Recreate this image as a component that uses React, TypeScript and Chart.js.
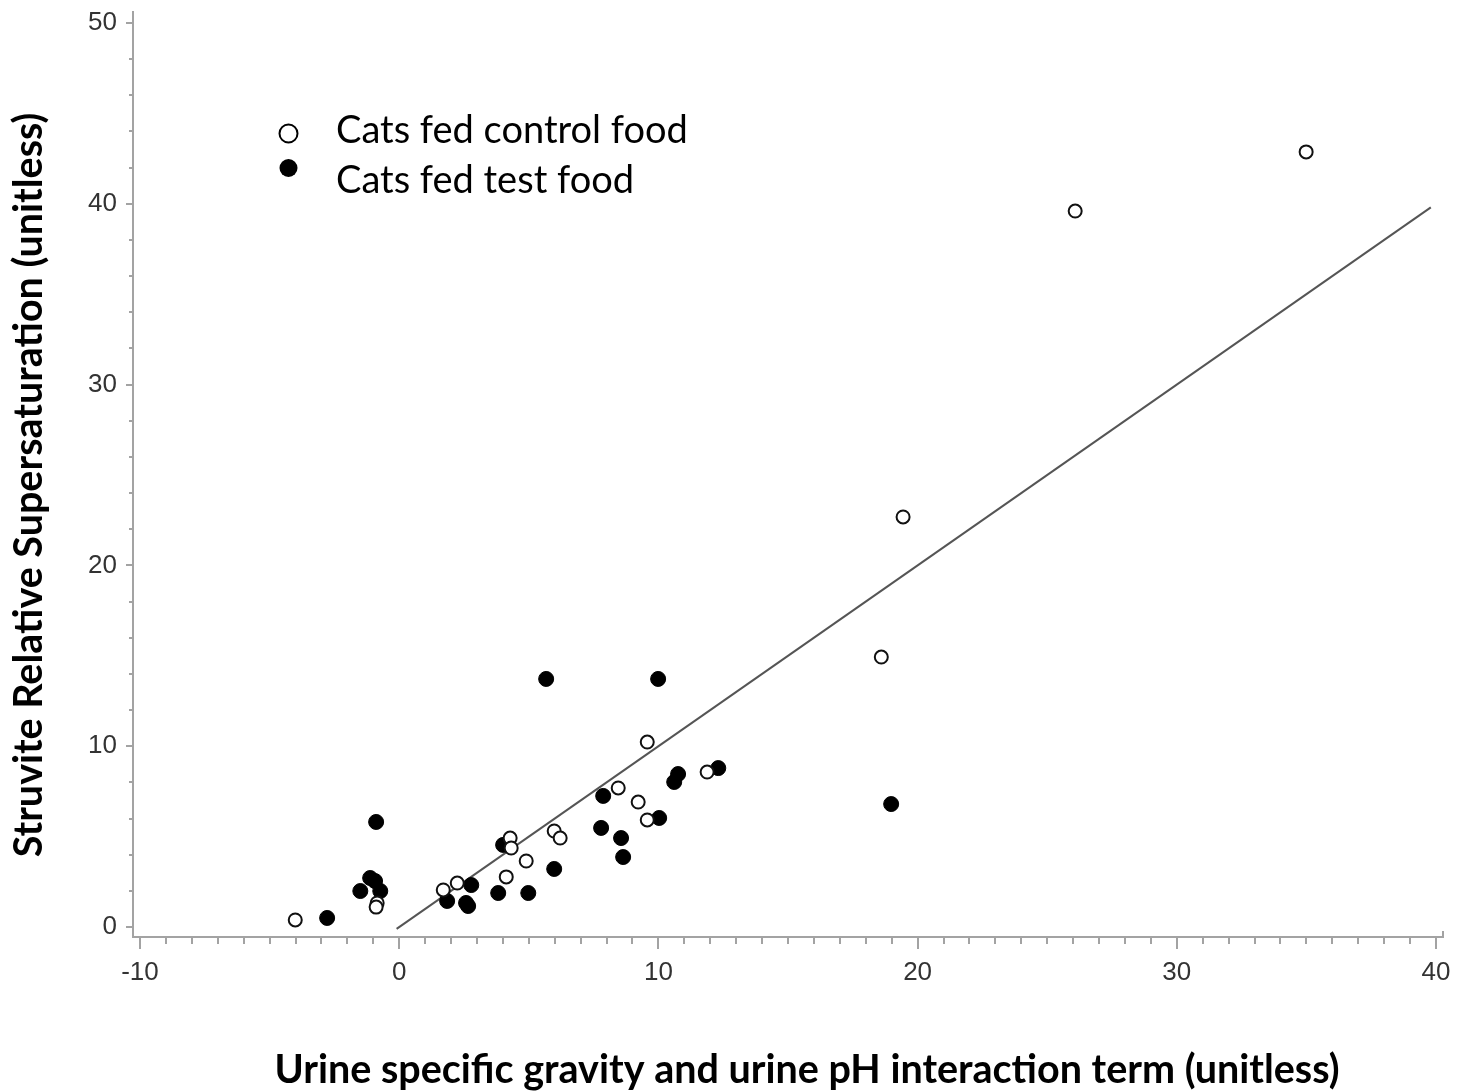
import React, { useEffect, useRef } from "react";
import { Chart, registerables } from "chart.js";
Chart.register(...registerables);

// ---- data ----
const controlX = [-4.01, -0.85, -0.89, 1.7, 2.24, 4.13, 4.28, 4.32, 4.9, 5.98, 6.21, 8.45, 9.22, 9.57, 9.57, 11.88, 18.6, 19.44, 26.08, 34.99];
const controlY = [0.39, 1.33, 1.1, 2.05, 2.43, 2.77, 4.92, 4.37, 3.65, 5.31, 4.92, 7.69, 6.91, 5.92, 10.23, 8.57, 14.93, 22.68, 39.6, 42.87];
const testX = [-2.78, -0.89, -1.12, -0.93, -1.5, -0.73, 1.85, 2.58, 2.66, 2.78, 3.82, 4.98, 4.01, 5.98, 5.67, 9.99, 7.87, 7.79, 8.56, 8.64, 10.03, 10.61, 10.76, 12.31, 18.98];
const testY = [0.5, 5.81, 2.71, 2.54, 1.99, 1.99, 1.44, 1.33, 1.16, 2.32, 1.88, 1.88, 4.54, 3.21, 13.72, 13.72, 7.25, 5.48, 4.92, 3.87, 6.03, 8.02, 8.46, 8.79, 6.8];
const fitX = [-0.1, 39.8];
const fitY = [-0.1, 39.8];
const xTicks = [-10, 0, 10, 20, 30, 40];
const yTicks = [0, 10, 20, 30, 40, 50];
const xMinorStep = 1;
const yMinorStep = 2;
const legendLabels = ["Cats fed control food", "Cats fed test food"];
const xTitle = "Urine specific gravity and urine pH interaction term (unitless)";
const yTitle = "Struvite Relative Supersaturation (unitless)";

const AXIS_COLOR = "#a3a3a3";
const TICK_FONT = "'Liberation Sans', Arial, sans-serif";
const TITLE_FONT = "Lato, 'Open Sans', sans-serif";

const toPoints = (xs: number[], ys: number[]) => xs.map((x, i) => ({ x, y: ys[i] }));

export default function App() {
  const ref = useRef<HTMLCanvasElement>(null);
  useEffect(() => {
    document.body.style.margin = "0";
    const axisTicks = {
      id: "axisTicks",
      afterDraw(chart: any) {
        const { ctx, chartArea } = chart;
        const xs = chart.scales.x;
        const ys = chart.scales.y;
        ctx.save();
        ctx.strokeStyle = AXIS_COLOR;
        ctx.lineWidth = 2;
        const x0 = xTicks[0], x1 = xTicks[xTicks.length - 1];
        for (let v = x0; v <= x1 + 1e-9; v += xMinorStep) {
          const px = Math.round(xs.getPixelForValue(v));
          const major = xTicks.includes(v);
          ctx.beginPath();
          ctx.moveTo(px, chartArea.bottom);
          ctx.lineTo(px, chartArea.bottom + (major ? 12 : 7));
          ctx.stroke();
        }
        const y0 = yTicks[0], y1 = yTicks[yTicks.length - 1];
        for (let v = y0; v <= y1 + 1e-9; v += yMinorStep) {
          const py = Math.round(ys.getPixelForValue(v));
          const major = yTicks.includes(v);
          ctx.beginPath();
          ctx.moveTo(chartArea.left, py);
          ctx.lineTo(chartArea.left - (major ? 7 : 4), py);
          ctx.stroke();
        }
        ctx.beginPath();
        ctx.moveTo(chartArea.right, chartArea.bottom);
        ctx.lineTo(chartArea.right, chartArea.bottom - 6);
        ctx.stroke();

        // axis titles
        ctx.fillStyle = "#000";
        ctx.font = `bold 39.5px ${TITLE_FONT}`;
        ctx.textAlign = "center";
        ctx.textBaseline = "alphabetic";
        ctx.fillText(xTitle, chartArea.left + 674, chartArea.bottom + 146);
        ctx.save();
        ctx.translate(chartArea.left - 91, chartArea.top + 473);
        ctx.rotate(-Math.PI / 2);
        ctx.fillText(yTitle, 0, 0);
        ctx.restore();
        ctx.restore();
      },
    };
    const legendPlugin = {
      id: "customLegend",
      afterDraw(chart: any) {
        const { ctx } = chart;
        ctx.save();
        ctx.beginPath();
        ctx.arc(288.5, 133.5, 9, 0, Math.PI * 2);
        ctx.fillStyle = "#fff";
        ctx.fill();
        ctx.lineWidth = 2;
        ctx.strokeStyle = "#000";
        ctx.stroke();
        ctx.beginPath();
        ctx.arc(288.5, 168, 9, 0, Math.PI * 2);
        ctx.fillStyle = "#000";
        ctx.fill();
        ctx.font = `38px ${TITLE_FONT}`;
        ctx.fillStyle = "#000";
        ctx.textBaseline = "alphabetic";
        ctx.textAlign = "left";
        ctx.fillText(legendLabels[0], 336, 143);
        ctx.fillText(legendLabels[1], 336, 193);
        ctx.restore();
      },
    };

    const noPad = (s: any) => {
      s.paddingTop = 0;
      s.paddingBottom = 0;
      s.paddingLeft = 0;
      s.paddingRight = 0;
    };

    const chart = new Chart(ref.current!, {
      type: "scatter",
      data: {
        datasets: [
          {
            label: legendLabels[0],
            data: toPoints(controlX, controlY),
            pointRadius: 6.5,
            pointBorderWidth: 2,
            pointBackgroundColor: "#ffffff",
            pointBorderColor: "#111111",
            borderColor: "#111111",
            backgroundColor: "#ffffff",
          },
          {
            label: legendLabels[1],
            data: toPoints(testX, testY),
            pointRadius: 7.5,
            pointBorderWidth: 1,
            pointBackgroundColor: "#000000",
            pointBorderColor: "#000000",
            borderColor: "#000000",
            backgroundColor: "#000000",
          },
          {
            label: "Fit",
            data: toPoints(fitX, fitY),
            showLine: true,
            pointRadius: 0,
            borderColor: "#555555",
            borderWidth: 2,
            fill: false,
          },
        ],
      },
      options: {
        responsive: false,
        animation: false,
        devicePixelRatio: 1,
        layout: { padding: { top: 12, right: 20, left: 0, bottom: 0 } },
        plugins: { legend: { display: false }, tooltip: { enabled: false } },
        scales: {
          x: {
            type: "linear",
            min: -10.27,
            max: 40.27,
            afterBuildTicks: (s: any) => {
              s.ticks = xTicks.map((v) => ({ value: v }));
            },
            afterFit: (s: any) => {
              s.height = 154;
              noPad(s);
            },
            grid: { display: false, drawTicks: false },
            border: { display: true, color: AXIS_COLOR, width: 2 },
            ticks: {
              autoSkip: false,
              maxRotation: 0,
              padding: 20,
              color: "#333",
              font: { family: TICK_FONT, size: 26 },
              callback: (v: any) => String(v),
            },
            title: { display: false, text: xTitle },
          },
          y: {
            type: "linear",
            min: -0.553,
            max: 50.608,
            afterBuildTicks: (s: any) => {
              s.ticks = yTicks.map((v) => ({ value: v }));
            },
            afterFit: (s: any) => {
              s.width = 133;
              noPad(s);
            },
            grid: { display: false, drawTicks: false },
            border: { display: true, color: AXIS_COLOR, width: 2 },
            ticks: {
              autoSkip: false,
              padding: 16,
              color: "#333",
              font: { family: TICK_FONT, size: 26 },
              callback: (v: any) => String(v),
            },
            title: { display: false, text: yTitle },
          },
        },
      },
      plugins: [axisTicks, legendPlugin],
    });
    return () => chart.destroy();
  }, []);
  return (
    <div style={{ position: "absolute", left: 0, top: 0, width: 1463, height: 1091, background: "#fff" }}>
      <canvas ref={ref} width={1463} height={1091} style={{ display: "block", width: 1463, height: 1091 }} />
    </div>
  );
}
